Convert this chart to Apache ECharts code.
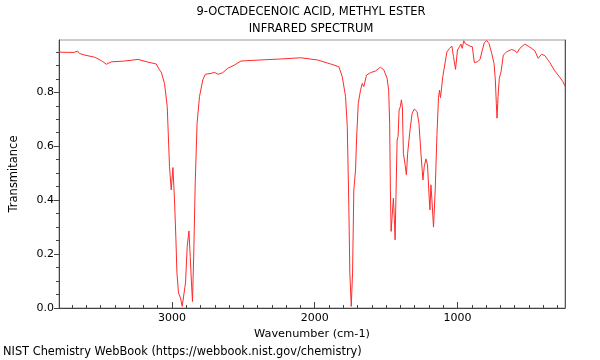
<!DOCTYPE html>
<html>
<head>
<meta charset="utf-8">
<script src="https://cdn.jsdelivr.net/npm/echarts@6/dist/echarts.min.js"></script>
<style>
html,body{margin:0;padding:0;background:#fff;}
#chart{width:600px;height:360px;}
</style>
</head>
<body>
<div id="chart"></div>
<script>
// Wavenumber (cm-1) and transmittance
var wavenumbers = [3791,3726,3686,3661,3647,3610,3540,3493,3459,3424,3331,3237,3168,3110,3087,3075,3052,3033,3024,3017,3005,2993,2982,2972,2965,2954,2940,2928,2916,2905,2893,2881,2872,2863,2856,2847,2837,2824,2807,2784,2766,2726,2703,2675,2644,2609,2563,2516,2377,2260,2098,1981,1888,1831,1807,1784,1772,1761,1754,1744,1735,1726,1714,1707,1695,1679,1667,1656,1637,1609,1574,1540,1516,1493,1482,1475,1470,1465,1456,1449,1442,1437,1430,1423,1416,1409,1400,1393,1386,1379,1372,1365,1358,1349,1335,1318,1302,1283,1270,1256,1242,1233,1221,1210,1200,1193,1186,1179,1168,1156,1144,1133,1126,1119,1103,1091,1074,1056,1039,1028,1014,1000,986,976,967,956,946,935,912,896,882,861,842,826,812,795,779,760,744,735,728,723,716,707,695,679,656,621,598,582,563,528,505,481,458,435,411,388,353,319,284,261,247];
var transmittance = [0.949,0.948,0.948,0.953,0.944,0.938,0.930,0.917,0.904,0.913,0.916,0.922,0.912,0.905,0.883,0.875,0.833,0.747,0.623,0.524,0.438,0.521,0.401,0.253,0.130,0.056,0.037,0.006,0.006,0.093,0.228,0.286,0.191,0.093,0.024,0.204,0.463,0.685,0.784,0.846,0.867,0.870,0.874,0.867,0.873,0.889,0.901,0.916,0.920,0.923,0.928,0.920,0.905,0.895,0.858,0.784,0.673,0.376,0.130,0.006,0.130,0.438,0.512,0.623,0.759,0.808,0.833,0.821,0.864,0.873,0.879,0.893,0.883,0.852,0.808,0.685,0.438,0.284,0.352,0.407,0.327,0.253,0.438,0.623,0.636,0.734,0.747,0.772,0.747,0.574,0.568,0.524,0.494,0.574,0.648,0.722,0.738,0.728,0.685,0.574,0.475,0.524,0.553,0.531,0.426,0.364,0.457,0.401,0.300,0.438,0.640,0.780,0.808,0.780,0.858,0.852,0.950,0.963,0.971,0.932,0.885,0.957,0.969,0.979,0.963,0.991,0.981,0.975,0.971,0.969,0.910,0.913,0.922,0.957,0.984,0.992,0.981,0.944,0.907,0.846,0.759,0.704,0.784,0.852,0.876,0.938,0.950,0.959,0.954,0.947,0.963,0.979,0.971,0.963,0.954,0.926,0.941,0.936,0.910,0.880,0.856,0.839,0.823];

var xMajorTicks = [1000, 2000, 3000];
var xMinorTicks = [300,400,500,600,700,800,900,1100,1200,1300,1400,1500,1600,1700,1800,1900,2100,2200,2300,2400,2500,2600,2700,2800,2900,3100,3200,3300,3400,3500,3600,3700];
var yMajorTicks = [0, 0.2, 0.4, 0.6, 0.8];
var yMinorTicks = [0.05,0.1,0.15,0.25,0.3,0.35,0.45,0.5,0.55,0.65,0.7,0.75,0.85,0.9,0.95];

var xMin = 247, xMax = 3791, yMin = 0, yMax = 0.994;
var FONT = 'DejaVu Sans';

var points = wavenumbers.map(function (w, i) { return [w, transmittance[i]]; });

var chart = echarts.init(document.getElementById('chart'), null, {renderer: 'canvas'});
chart.setOption({
  animation: false,
  backgroundColor: '#fff',
  textStyle: {fontFamily: FONT},
  grid: {left: 57, right: 35, top: 40, bottom: 52, show: true, borderColor: '#999', borderWidth: 1},
  graphic: [
    {type: 'text', x: 311, y: 6, style: {text: '9-OCTADECENOIC ACID, METHYL ESTER', font: '11.5px "DejaVu Sans"', fill: '#000', textAlign: 'center'}},
    {type: 'text', x: 311, y: 23, style: {text: 'INFRARED SPECTRUM', font: '11.5px "DejaVu Sans"', fill: '#000', textAlign: 'center'}},
    {type: 'text', x: 3, y: 347, style: {text: 'NIST Chemistry WebBook (https://webbook.nist.gov/chemistry)', font: '11.4px "DejaVu Sans"', fill: '#000', textAlign: 'left'}}
  ],
  xAxis: [
    {
      type: 'value', gridIndex: 0, position: 'bottom', inverse: true, min: xMin, max: xMax,
      name: 'Wavenumber (cm-1)', nameLocation: 'middle', nameGap: 18,
      nameTextStyle: {color: '#000', fontSize: 11.3, fontFamily: FONT},
      axisLine: {show: true, lineStyle: {color: '#444', width: 1}},
      axisTick: {show: true, inside: true, length: 6, customValues: xMajorTicks, lineStyle: {color: '#444'}},
      axisLabel: {show: true, customValues: xMajorTicks, color: '#000', fontSize: 11, fontFamily: FONT, margin: 5,
        formatter: function (v) { return String(Math.round(v)); }},
      splitLine: {show: false}
    },
    {
      type: 'value', gridIndex: 0, position: 'bottom', inverse: true, min: xMin, max: xMax,
      axisLine: {show: false},
      axisTick: {show: true, inside: true, length: 3, customValues: xMinorTicks, lineStyle: {color: '#444'}},
      axisLabel: {show: false},
      splitLine: {show: false}
    }
  ],
  yAxis: [
    {
      type: 'value', gridIndex: 0, position: 'left', min: yMin, max: yMax,
      name: 'Transmitance', nameLocation: 'middle', nameGap: 39, nameRotate: 90,
      nameTextStyle: {color: '#000', fontSize: 11.5, fontFamily: FONT},
      axisLine: {show: true, lineStyle: {color: '#444', width: 1}},
      axisTick: {show: true, inside: false, length: 5, customValues: yMajorTicks, lineStyle: {color: '#444'}},
      axisLabel: {show: true, customValues: yMajorTicks, color: '#000', fontSize: 11, fontFamily: FONT, margin: 5,
        formatter: function (v) { return v.toFixed(1); }},
      splitLine: {show: false}
    },
    {
      type: 'value', gridIndex: 0, position: 'left', min: yMin, max: yMax,
      axisLine: {show: false},
      axisTick: {show: true, inside: false, length: 3, customValues: yMinorTicks, lineStyle: {color: '#444'}},
      axisLabel: {show: false},
      splitLine: {show: false}
    },
    {
      type: 'value', gridIndex: 0, position: 'right', min: yMin, max: yMax,
      axisLine: {show: true, lineStyle: {color: '#555', width: 1}},
      axisTick: {show: false}, axisLabel: {show: false}, splitLine: {show: false}
    }
  ],
  series: [{
    type: 'line', xAxisIndex: 0, yAxisIndex: 0, data: points,
    showSymbol: false, symbol: 'none', smooth: false,
    lineStyle: {color: '#ff2a2a', width: 1},
    clip: true
  }]
});
</script>
</body>
</html>
